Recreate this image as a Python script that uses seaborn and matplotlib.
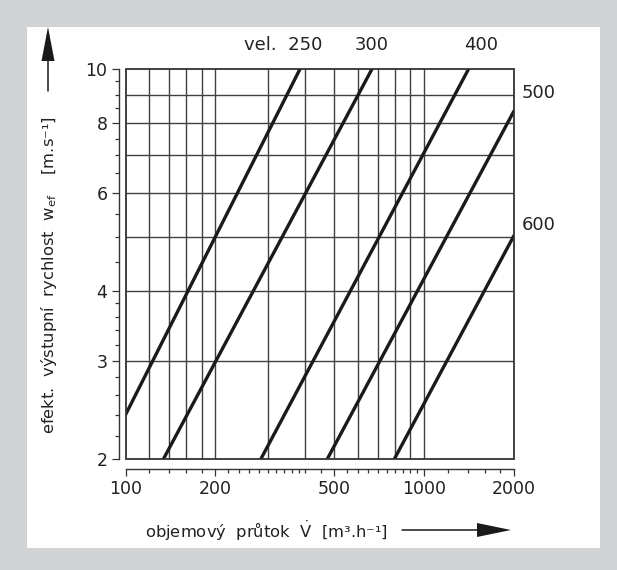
import numpy as np
import pandas as pd
import matplotlib
matplotlib.use("Agg")
import matplotlib.pyplot as plt
import seaborn as sns
from matplotlib.ticker import FixedLocator, FixedFormatter, NullFormatter
from matplotlib.patches import Rectangle, Polygon
from matplotlib.lines import Line2D

# ---------------- data ----------------
sizes = ["250", "300", "400", "500", "600"]
flow_start = [100, 134, 284, 474, 795]
vel_start = [2.4, 2.0, 2.0, 2.0, 2.0]
flow_end = [384, 669, 1409, 2000, 2000]
vel_end = [10.0, 10.0, 10.0, 8.41, 5.03]

x_tick_major = [100, 200, 500, 1000, 2000]
x_tick_labels = ["100", "200", "500", "1000", "2000"]
x_tick_minor = [120, 140, 160, 180, 220, 240, 260, 280, 300, 320, 340, 360, 380,
                400, 450, 500, 550, 600, 650, 700, 750, 800, 850, 900, 950,
                1200, 1400, 1600, 1800]
y_tick_major = [2, 3, 4, 6, 8, 10]
y_tick_labels = ["2", "3", "4", "6", "8", "10"]
y_tick_minor = [2.2, 2.4, 2.6, 2.8, 3.2, 3.4, 3.6, 3.8, 4.5, 5, 5.5, 6.5, 7, 7.5,
                8.5, 9, 9.5]
grid_x = [120, 140, 160, 180, 200, 300, 400, 500, 600, 700, 800, 900, 1000]
grid_y = [3, 4, 5, 6, 7, 8, 9]

xlabel = "objemový  průtok  $\\dot{V}$  [m³.h⁻¹]"
ylabel = "efekt.  výstupní  rychlost  w$_{ef}$    [m.s⁻¹]"

# ---------------- style ----------------
sns.set_theme(style="ticks")
plt.rcParams["font.family"] = ["DejaVu Sans"]
plt.rcParams["mathtext.default"] = "regular"
TXT = "#222222"

W, H = 617, 570
fig = plt.figure(figsize=(W / 100, H / 100), dpi=100)
fig.patch.set_facecolor("#d1d3d4")
fig.add_artist(Rectangle((27 / W, 22 / H), 573 / W, 521 / H, transform=fig.transFigure,
                         facecolor="white", edgecolor="none", zorder=0))

ax = fig.add_axes([125.5 / W, 1 - 459 / H, (514 - 125.5) / W, (459 - 69) / H])
ax.set_facecolor("white")
ax.set_xscale("log")
ax.set_yscale("log")

# grid
ax.vlines(grid_x, 2, 10, colors="#404040", lw=1.0, zorder=1)
ax.hlines(grid_y, 100, 2000, colors="#404040", lw=1.0, zorder=1)

# lines
rows = []
for s, x0, y0, x1, y1 in zip(sizes, flow_start, vel_start, flow_end, vel_end):
    rows.append({"size": s, "flow": x0, "vel": y0})
    rows.append({"size": s, "flow": x1, "vel": y1})
df = pd.DataFrame(rows)
sns.lineplot(data=df, x="flow", y="vel", units="size", estimator=None,
             color="#1a1a1a", lw=2.4, ax=ax, zorder=3, legend=False)

ax.set_xlim(100, 2000)
ax.set_ylim(2, 10)

# ticks / rulers
ax.xaxis.set_major_locator(FixedLocator(x_tick_major))
ax.xaxis.set_major_formatter(FixedFormatter(x_tick_labels))
ax.xaxis.set_minor_locator(FixedLocator(x_tick_minor))
ax.xaxis.set_minor_formatter(NullFormatter())
ax.yaxis.set_major_locator(FixedLocator(y_tick_major))
ax.yaxis.set_major_formatter(FixedFormatter(y_tick_labels))
ax.yaxis.set_minor_locator(FixedLocator(y_tick_minor))
ax.yaxis.set_minor_formatter(NullFormatter())

ax.tick_params(which="major", length=5, width=0.9, color="#333333", direction="out",
               labelsize=12.5, labelcolor=TXT)
ax.tick_params(which="minor", length=3.2, width=0.9, color="#333333", direction="out")
ax.tick_params(axis="x", which="major", pad=3)
ax.tick_params(axis="y", which="major", pad=3)

for side in ["top", "right"]:
    ax.spines[side].set_visible(False)
ax.spines["left"].set_position(("outward", 5))
ax.spines["bottom"].set_position(("outward", 7.2))
for side in ["left", "bottom"]:
    ax.spines[side].set_color("#333333")
    ax.spines[side].set_linewidth(1.0)
ax.add_patch(Rectangle((0, 0), 1, 1, transform=ax.transAxes, fill=False,
                       edgecolor="#333333", lw=1.3, clip_on=False, zorder=4))
ax.set_xlabel("")
ax.set_ylabel("")

# line labels
label_pos = {
    "250": ((22, 24), "right", "vel.  250"),
    "300": ((0, 24), "center", "300"),
    "400": ((12, 24), "center", "400"),
    "500": ((8, 18), "left", "500"),
    "600": ((8, 11), "left", "600"),
}
for s, x1, y1 in zip(sizes, flow_end, vel_end):
    off, ha, txt = label_pos[s]
    ax.annotate(txt, xy=(x1, y1), xytext=off, textcoords="offset pixels",
                ha=ha, va="center", fontsize=13, color=TXT, annotation_clip=False)

# axis titles with arrows
fig.text(266 / W, 1 - 531 / H, xlabel, ha="center", va="center", fontsize=11.8, color=TXT)
fig.text(49 / W, 1 - 275 / H, ylabel, ha="center", va="center", rotation=90,
         fontsize=11.8, color=TXT)

def fx(px):
    return px / W

def fy(py):
    return 1 - py / H

# x arrow
fig.add_artist(Line2D([fx(402), fx(480)], [fy(530), fy(530)], color="#1a1a1a", lw=1.1,
                      transform=fig.transFigure))
fig.add_artist(Polygon([[fx(477), fy(523)], [fx(477), fy(537)], [fx(511), fy(530)]],
                       closed=True, facecolor="#1a1a1a", edgecolor="none",
                       transform=fig.transFigure))
# y arrow
fig.add_artist(Line2D([fx(48), fx(48)], [fy(91), fy(58)], color="#1a1a1a", lw=1.1,
                      transform=fig.transFigure))
fig.add_artist(Polygon([[fx(41.5), fy(61)], [fx(54.5), fy(61)], [fx(48), fy(27)]],
                       closed=True, facecolor="#1a1a1a", edgecolor="none",
                       transform=fig.transFigure))

fig.savefig("out.png", dpi=100, facecolor=fig.get_facecolor())
